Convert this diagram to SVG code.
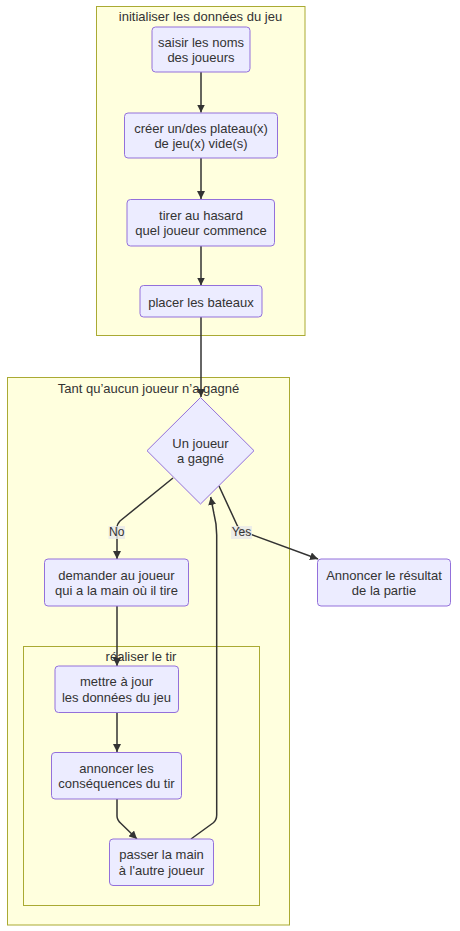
<svg xmlns="http://www.w3.org/2000/svg" width="460" height="931" viewBox="0 0 460 931">
<style>
.cluster{fill:#ffffde;stroke:#aaaa33;stroke-width:1}
.node{fill:#ececff;stroke:#9370db;stroke-width:1}
text{font-family:"Liberation Sans",Arial,sans-serif;font-size:13px;fill:#333333;text-anchor:middle}
.edge{fill:none;stroke:#333333;stroke-width:1.5}
.lbl{fill:#e8e8e8;opacity:0.8}
.elbl{font-size:12px}
</style>
<defs>
<marker id="arrow" viewBox="0 0 10 10" refX="10" refY="5" markerUnits="userSpaceOnUse" markerWidth="8" markerHeight="8" orient="auto">
<path d="M0,0 L10,5 L0,10 z" fill="#333333"/>
</marker>
</defs>
<rect width="460" height="931" fill="#ffffff"/>
<g id="clusters">
<g id="cluster-init">
<rect class="cluster" x="96.5" y="6.5" width="208.5" height="329"/>
<text x="200.5" y="21">initialiser les données du jeu</text>
</g>
<g id="cluster-loop">
<rect class="cluster" x="7.5" y="377.5" width="282" height="547.5"/>
<text x="148.5" y="392.5">Tant qu’aucun joueur n’a gagné</text>
</g>
<g id="cluster-tir">
<rect class="cluster" x="23.5" y="646.5" width="236" height="259"/>
<text x="141" y="661">réaliser le tir</text>
</g>
</g>
<g id="edges">
<path class="edge" d="M201,72 L201,112.5" marker-end="url(#arrow)"/>
<path class="edge" d="M201,158 L201,199" marker-end="url(#arrow)"/>
<path class="edge" d="M201,246 L201,285.5" marker-end="url(#arrow)"/>
<path class="edge" d="M201,317 L201,397" marker-end="url(#arrow)"/>
<path class="edge" d="M173,478 L120,521 Q117,524 117,528 L117,559" marker-end="url(#arrow)"/>
<path class="edge" d="M219,486 L237,525 Q239,530 246,532.5 L318,559" marker-end="url(#arrow)"/>
<path class="edge" d="M117,606 L117,666" marker-end="url(#arrow)"/>
<path class="edge" d="M117,712 L117,752" marker-end="url(#arrow)"/>
<path class="edge" d="M117,799 L117,816 Q117,820 121,823.5 L137,839" marker-end="url(#arrow)"/>
<path class="edge" d="M191,839 L213,823 Q216.7,820 216.7,815 L216.7,535 Q216.7,524 214,514 L210.7,497" marker-end="url(#arrow)"/>
</g>
<g id="edge-labels">
<g id="label-no">
<rect class="lbl" x="108.5" y="526" width="16.5" height="13"/>
<text class="elbl" x="116.7" y="536">No</text>
</g>
<g id="label-yes">
<rect class="lbl" x="231" y="526" width="21" height="13"/>
<text class="elbl" x="241.5" y="536">Yes</text>
</g>
</g>
<g id="node-saisir">
<rect class="node" x="152" y="27" width="98" height="45" rx="3.5"/>
<text x="201" y="46.5">saisir les noms</text>
<text x="201" y="62">des joueurs</text>
</g>
<g id="node-creer">
<rect class="node" x="124.5" y="113" width="153" height="45" rx="3.5"/>
<text x="201" y="132.5">créer un/des plateau(x)</text>
<text x="201" y="148">de jeu(x) vide(s)</text>
</g>
<g id="node-tirer">
<rect class="node" x="127" y="199.5" width="147.5" height="46.5" rx="3.5"/>
<text x="201" y="219.5">tirer au hasard</text>
<text x="201" y="235">quel joueur commence</text>
</g>
<g id="node-placer">
<rect class="node" x="140" y="285.5" width="122" height="31.5" rx="3.5"/>
<text x="201" y="306.5">placer les bateaux</text>
</g>
<g id="node-gagne">
<polygon class="node" points="200.5,397.5 254,450.7 200.5,504 147,450.7"/>
<text x="200.5" y="447.5">Un joueur</text>
<text x="200.5" y="462.5">a gagné</text>
</g>
<g id="node-demander">
<rect class="node" x="44.5" y="559" width="144" height="47" rx="3.5"/>
<text x="116.5" y="579.5">demander au joueur</text>
<text x="116.5" y="595">qui a la main où il tire</text>
</g>
<g id="node-resultat">
<rect class="node" x="317.5" y="559" width="133" height="47" rx="3.5"/>
<text x="384" y="579.5">Annoncer le résultat</text>
<text x="384" y="595">de la partie</text>
</g>
<g id="node-mettre">
<rect class="node" x="55" y="666" width="123.5" height="46.5" rx="3.5"/>
<text x="116.5" y="686">mettre à jour</text>
<text x="116.5" y="701.5">les données du jeu</text>
</g>
<g id="node-annoncer">
<rect class="node" x="51.5" y="752.5" width="130" height="46.5" rx="3.5"/>
<text x="116.5" y="772.5">annoncer les</text>
<text x="116.5" y="788">conséquences du tir</text>
</g>
<g id="node-passer">
<rect class="node" x="109.5" y="839" width="104" height="46.5" rx="3.5"/>
<text x="161.5" y="859">passer la main</text>
<text x="161.5" y="874.5">à l'autre joueur</text>
</g>
</svg>
